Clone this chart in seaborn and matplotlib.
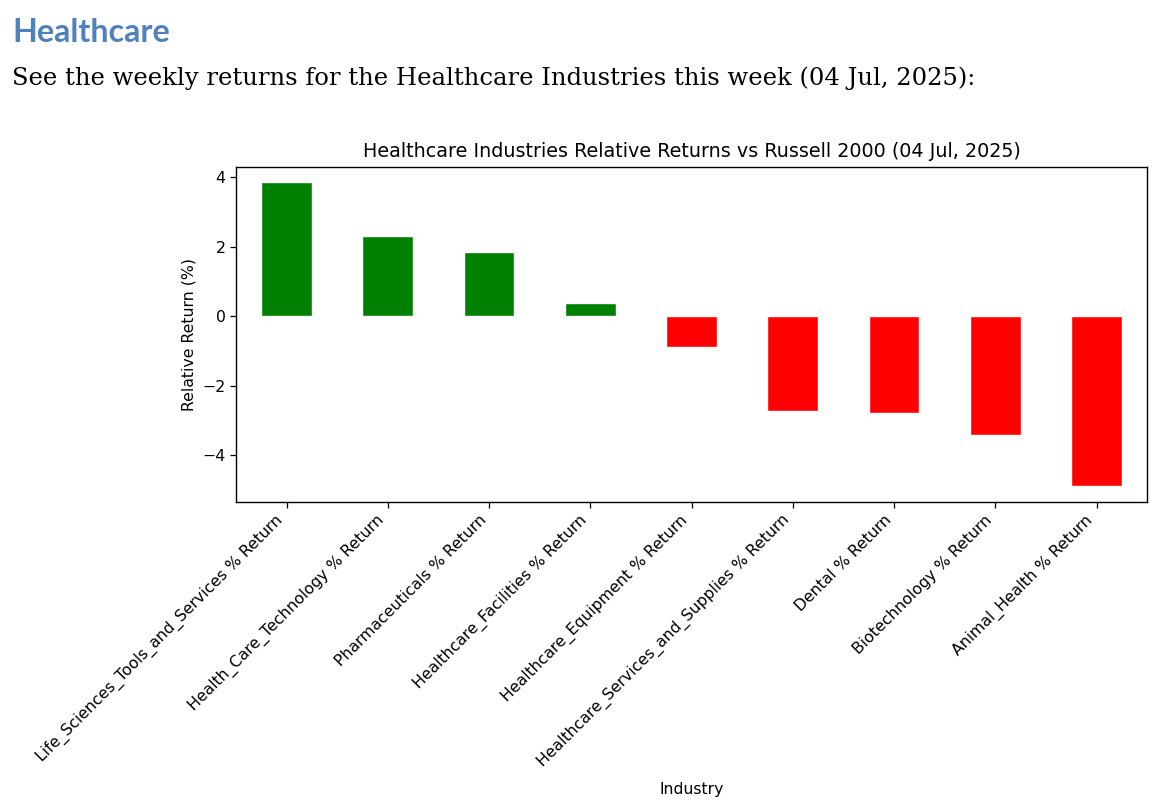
import pandas as pd
import matplotlib
matplotlib.use("Agg")
import matplotlib.pyplot as plt
import seaborn as sns

industries = [
    "Life_Sciences_Tools_and_Services % Return",
    "Health_Care_Technology % Return",
    "Pharmaceuticals % Return",
    "Healthcare_Facilities % Return",
    "Healthcare_Equipment % Return",
    "Healthcare_Services_and_Supplies % Return",
    "Dental % Return",
    "Biotechnology % Return",
    "Animal_Health % Return",
]
rel_returns = [3.86, 2.31, 1.84, 0.37, -0.88, -2.74, -2.78, -3.41, -4.90]

df = pd.DataFrame({"Industry": industries, "ret": rel_returns})
df["sign"] = ["pos" if v >= 0 else "neg" for v in df["ret"]]

sns.set_theme(style="ticks")
plt.rcParams["font.family"] = ["DejaVu Sans"]
plt.rcParams["text.color"] = "black"
plt.rcParams["axes.labelcolor"] = "black"

fig = plt.figure(figsize=(11.6, 8.06), dpi=100)
ax = fig.add_axes([0.2034, 0.3776, 0.7855, 0.4156])

sns.barplot(data=df, x="Industry", y="ret", hue="sign",
            palette={"pos": "green", "neg": "red"}, dodge=False,
            width=0.5, legend=False, saturation=1, ax=ax)

ax.set_xlim(-0.5, len(industries) - 0.5)
lo, hi = min(rel_returns), max(rel_returns)
pad = (hi - lo) * 0.05
ax.set_ylim(lo - pad, hi + pad)
ax.set_yticks([-4, -2, 0, 2, 4])
ax.set_yticklabels(["\u22124", "\u22122", "0", "2", "4"])

for s in ax.spines.values():
    s.set_visible(True)
    s.set_color("black")
    s.set_linewidth(1.0)
ax.tick_params(axis="both", colors="black", labelsize=11.3, length=4, width=0.9)
plt.setp(ax.get_xticklabels(), rotation=45, ha="right", rotation_mode="default")

ax.set_title("Healthcare Industries Relative Returns vs Russell 2000 (04 Jul, 2025)",
             fontsize=13.8, pad=7, color="black")
ax.set_xlabel("Industry", fontsize=11.3, labelpad=8)
ax.set_ylabel("Relative Return (%)", fontsize=11.3)

fig.text(0.0103, 0.948, "Healthcare", fontsize=23.2, fontweight="bold",
         color="#4F81BD", family="Lato", va="baseline")
fig.text(0.0103, 0.8945, "See the weekly returns for the Healthcare Industries this week (04 Jul, 2025):",
         fontsize=17.5, family="DejaVu Serif", color="black", va="baseline")

fig.savefig("out.png", dpi=100, facecolor="white")
